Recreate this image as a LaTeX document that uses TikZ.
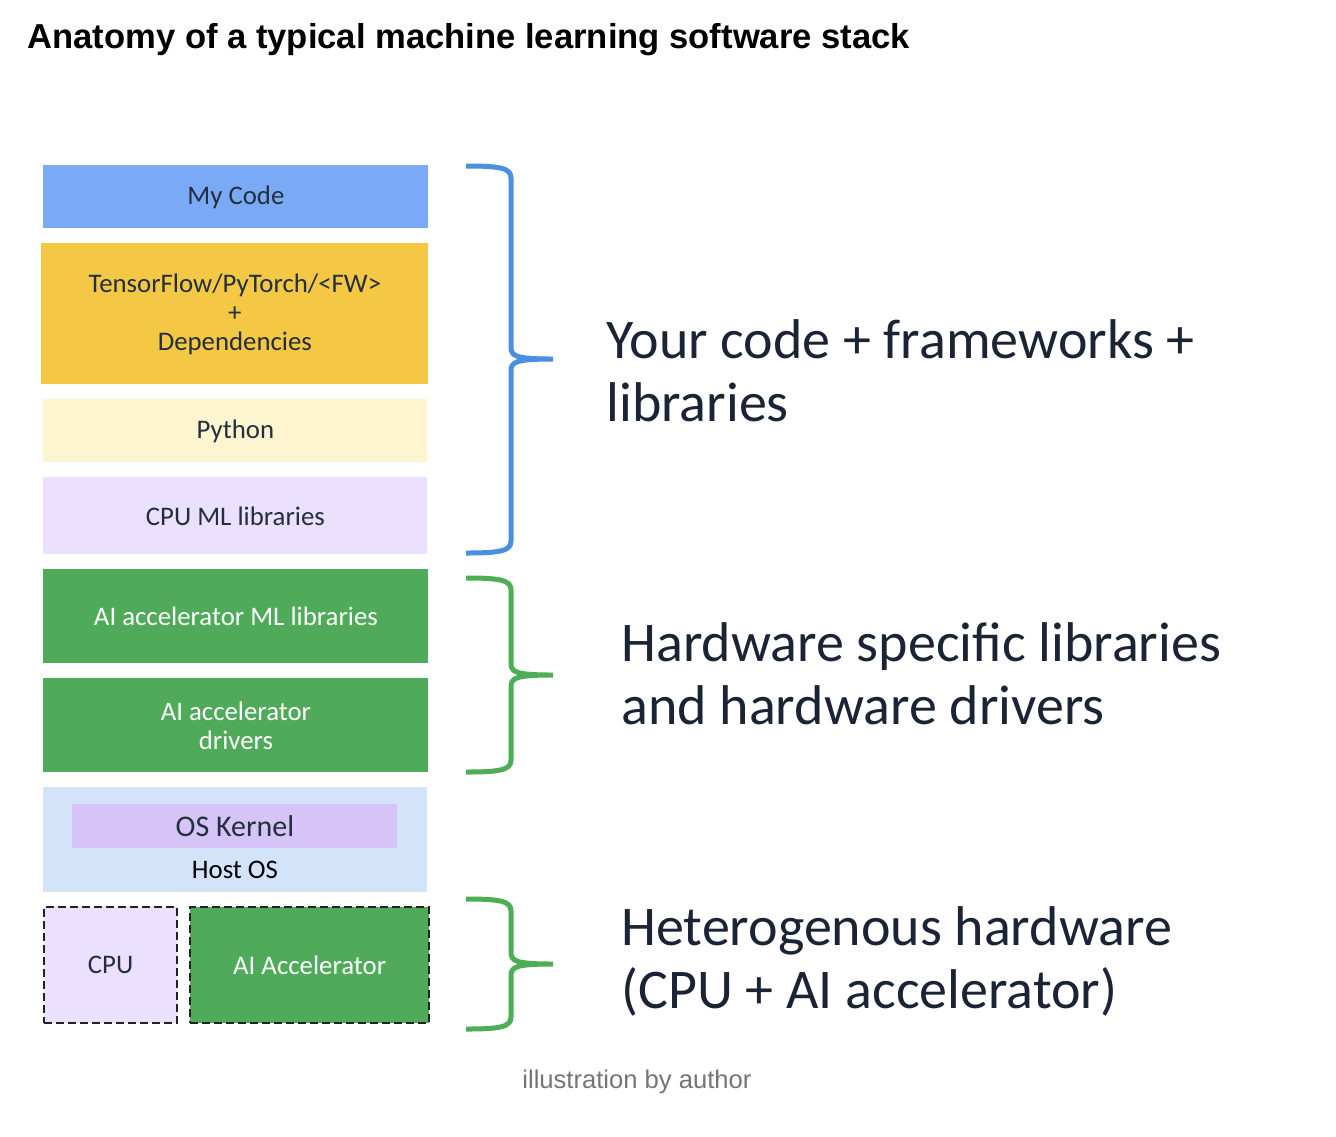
\documentclass[tikz,border=0pt]{standalone}
\usepackage{fontspec}
\setmainfont{Carlito}
\newfontfamily\titlefont{Liberation Sans}
\usepackage{xcolor}
\definecolor{codeblue}{RGB}{122,170,246}
\definecolor{fwyellow}{RGB}{244,199,68}
\definecolor{pyyellow}{RGB}{253,244,208}
\definecolor{cpulilac}{RGB}{235,224,253}
\definecolor{accelgreen}{RGB}{79,171,90}
\definecolor{hostblue}{RGB}{211,227,250}
\definecolor{kernelpurple}{RGB}{214,196,248}
\definecolor{braceblue}{RGB}{74,143,224}
\definecolor{bracegreen}{RGB}{77,174,85}
\definecolor{inkdark}{RGB}{35,47,62}
\definecolor{labeldark}{RGB}{27,36,52}
\definecolor{dashdark}{RGB}{34,34,40}
\definecolor{captiongray}{RGB}{117,117,117}
\usepackage{tikz}

\tikzset{
    layer/.style={anchor=north west, inner sep=0pt, align=center, text=inkdark,
        font=\fontsize{13.4}{14.5}\selectfont},
    greenlayer/.style={layer, fill=accelgreen, text=white},
    chip/.style={layer, draw=dashdark, line width=1.1pt, dash pattern=on 4pt off 2pt},
    sidelabel/.style={anchor=north west, inner sep=0pt, align=left, text=labeldark,
        font=\fontsize{28}{31.5}\selectfont},
}

\begin{document}
\begin{tikzpicture}[x=0.5pt, y=-0.5pt]
    \useasboundingbox[fill=white] (0,0) rectangle (1336,1136);
    \node[anchor=base west, inner sep=0pt, font=\titlefont\bfseries\fontsize{17.3}{20}\selectfont] (title) at (27,48) {Anatomy of a typical machine learning software stack};

    % the software stack
    \node[layer, fill=codeblue, minimum width=192.5pt, minimum height=31.5pt] (mycode) at (43,165) {My Code};
    \node[layer, fill=fwyellow, minimum width=193.5pt, minimum height=70.5pt] (framework) at (41,243) {TensorFlow/PyTorch/<FW>\\+\\Dependencies};
    \node[layer, fill=pyyellow, minimum width=192pt, minimum height=31.5pt] (python) at (43,399) {Python};
    \node[layer, fill=cpulilac, minimum width=192pt, minimum height=38.5pt] (cpulib) at (43,477) {CPU ML libraries};
    \node[greenlayer, minimum width=192.5pt, minimum height=47pt] (accellib) at (43,569) {AI accelerator ML libraries};
    \node[greenlayer, minimum width=192.5pt, minimum height=47pt] (drivers) at (43,678) {AI accelerator\\drivers};
    \node[layer, fill=hostblue, minimum width=192pt, minimum height=52.5pt] (hostos) at (43,787) {};
    \node[layer, fill=kernelpurple, minimum width=162.5pt, minimum height=22pt, font=\fontsize{15}{17}\selectfont] (kernel) at (72,804) {OS Kernel};
    \node[anchor=center, inner sep=0pt, text=black, font=\fontsize{13.4}{14.5}\selectfont] (hostlabel) at (235,870) {Host OS};
    \node[chip, fill=cpulilac, minimum width=66.5pt, minimum height=58pt] (cpu) at (43,906) {CPU};
    \node[chip, fill=accelgreen, text=white, minimum width=119.5pt, minimum height=58pt] (accel) at (189,906) {AI Accelerator};

    % braces
    \foreach \top/\tip/\bot/\col in {166/359/553/braceblue, 578/675/772/bracegreen, 899/964/1029/bracegreen}
        \draw[\col, line width=2.5pt] (466,\top) .. controls (500,\top) and (511,\top+2) .. (511,\top+12) -- (511,\tip-12)
            .. controls (511,\tip-3) and (515,\tip) .. (553,\tip)
            .. controls (515,\tip) and (511,\tip+3) .. (511,\tip+12) -- (511,\bot-12)
            .. controls (511,\bot-2) and (500,\bot) .. (466,\bot);

    \node[sidelabel] (stacklabel) at (606,319) {Your code + frameworks +\\libraries};
    \node[sidelabel] (hwlabel) at (621,622) {Hardware specific libraries\\and hardware drivers};
    \node[sidelabel] (chiplabel) at (621,906) {Heterogenous hardware\\(CPU + AI accelerator)};

    \node[anchor=base west, inner sep=0pt, text=captiongray, font=\titlefont\fontsize{12.8}{15}\selectfont] (caption) at (522,1088) {illustration by author};
\end{tikzpicture}
\end{document}
